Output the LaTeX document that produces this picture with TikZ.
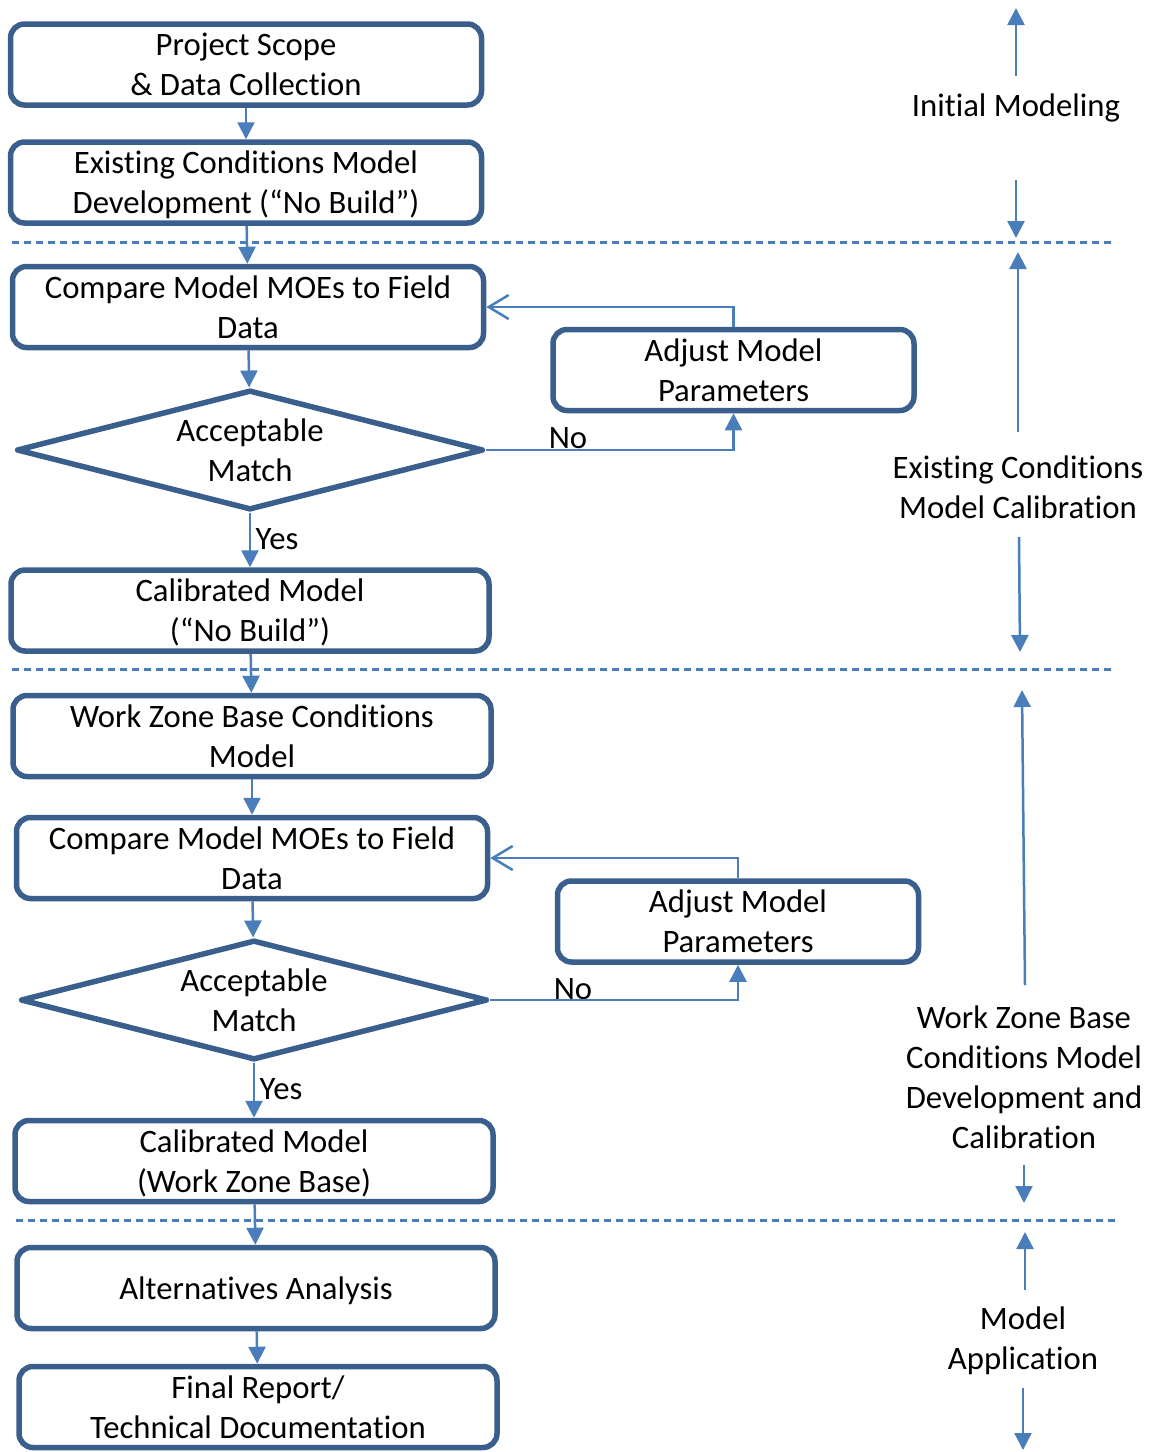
\documentclass[tikz,border=0pt]{standalone}
\usepackage{fontspec}
\setmainfont{Carlito}[Ligatures=NoCommon]
\usetikzlibrary{shapes.geometric,arrows.meta}
\definecolor{boxblue}{HTML}{3A5F8D}
\definecolor{lineblue}{HTML}{4A7EBB}
\begin{document}
\begin{tikzpicture}[x=1pt,y=-1pt,
  every node/.style={font=\fontsize{32.7}{40}\selectfont, align=center, inner sep=0pt},
  stepbox/.style={draw=boxblue, line width=5.5pt, rounded corners=14pt, minimum height=81pt,
    text depth=0pt},
  decision/.style={draw=boxblue, line width=5.5pt, line join=round, diamond, aspect=3.9,
    minimum width=467pt, minimum height=120pt, text depth=0pt},
  conn/.style={draw=lineblue, line width=2.5pt, -{Triangle[length=17pt,width=17pt]}},
  back/.style={draw=lineblue, line width=2.5pt, -{Straight Barb[length=20pt,width=24pt]}},
  phase/.style={draw=lineblue, line width=3pt, dash pattern=on 7pt off 5pt},
]
\useasboundingbox (0,0) rectangle (1151,1452);

% ---- phase separators
\coordinate (s1a) at (12,242);   \coordinate (s1b) at (1115,242);
\coordinate (s2a) at (12,669);   \coordinate (s2b) at (1115,669);
\coordinate (s3a) at (16,1220);  \coordinate (s3b) at (1118,1220);
\draw[phase] (s1a) -- (s1b);
\draw[phase] (s2a) -- (s2b);
\draw[phase] (s3a) -- (s3b);

% ---- initial modeling
\node[stepbox, minimum width=471pt] (b1) at (246,64.5) {Project Scope\\\& Data Collection};
\node[stepbox, minimum width=471pt] (b2) at (246,182.5) {Existing Conditions Model\\Development (“No Build”)};

% ---- existing conditions calibration
\node[stepbox, minimum width=471pt] (b3) at (248,307) {Compare Model MOEs to Field\\Data};
\node[stepbox, minimum width=361pt] (a1) at (733.5,370) {Adjust Model\\Parameters};
\node[decision] (d1) at (250,450) {Acceptable\\Match};
\node[stepbox, minimum width=478pt] (b4) at (250,610.5) {Calibrated Model\\(“No Build”)};
\node (no1) at (568,438) {No};
\node (yes1) at (277,539) {Yes};

% ---- work zone base conditions
\node[stepbox, minimum width=478pt] (b5) at (252,736) {Work Zone Base Conditions\\Model};
\node[stepbox, minimum width=471pt] (b6) at (252,858) {Compare Model MOEs to Field\\Data};
\node[stepbox, minimum width=361pt] (a2) at (738,921.5) {Adjust Model\\Parameters};
\node[decision] (d2) at (254,1000) {Acceptable\\Match};
\node[stepbox, minimum width=478pt] (b7) at (254,1161) {Calibrated Model\\(Work Zone Base)};
\node (no2) at (573,989) {No};
\node (yes2) at (281,1089) {Yes};

% ---- model application
\node[stepbox, minimum width=478pt] (b8) at (256,1288) {Alternatives Analysis};
\node[stepbox, minimum width=478pt] (b9) at (258,1407) {Final Report/\\Technical Documentation};

% ---- main flow
\draw[conn] (b1) -- (b2);
\draw[conn] (b2) -- (b3);
\draw[conn] (b3) -- (d1);
\draw[conn] (d1) -- (b4);
\draw[conn] (b4) -- (b5);
\draw[conn] (b5) -- (b6);
\draw[conn] (b6) -- (d2);
\draw[conn] (d2) -- (b7);
\draw[conn] (b7) -- (b8);
\draw[conn] (b8) -- (b9);

% ---- calibration loops
\draw[conn] (d1.east) -| (a1.south);
\draw[back] (a1.north) |- (b3.east);
\draw[conn] (d2.east) -| (a2.south);
\draw[back] (a2.north) |- (b6.east);

% ---- phase labels with extent arrows
\node (p1) at (1016,108) {Initial Modeling};
\node (p2) at (1018,487) {Existing Conditions\\Model Calibration};
\node (p3) at (1024,1077) {Work Zone Base\\Conditions Model\\Development and\\Calibration};
\node (p4) at (1023,1341) {Model\\Application};

\coordinate (p1u0) at (1016,76);   \coordinate (p1u1) at (1016,8);
\coordinate (p1d0) at (1016,180);  \coordinate (p1d1) at (1016,238);
\coordinate (p2u0) at (1018,432);  \coordinate (p2u1) at (1018,252);
\coordinate (p2d0) at (1019,537);  \coordinate (p2d1) at (1020,652);
\coordinate (p3u0) at (1025,985);  \coordinate (p3u1) at (1022,690);
\coordinate (p3d0) at (1024,1165); \coordinate (p3d1) at (1024,1203);
\coordinate (p4u0) at (1025,1290); \coordinate (p4u1) at (1025,1232);
\coordinate (p4d0) at (1023,1388); \coordinate (p4d1) at (1023,1450);

\draw[conn] (p1u0) -- (p1u1);
\draw[conn] (p1d0) -- (p1d1);
\draw[conn] (p2u0) -- (p2u1);
\draw[conn] (p2d0) -- (p2d1);
\draw[conn] (p3u0) -- (p3u1);
\draw[conn] (p3d0) -- (p3d1);
\draw[conn] (p4u0) -- (p4u1);
\draw[conn] (p4d0) -- (p4d1);
\end{tikzpicture}
\end{document}
